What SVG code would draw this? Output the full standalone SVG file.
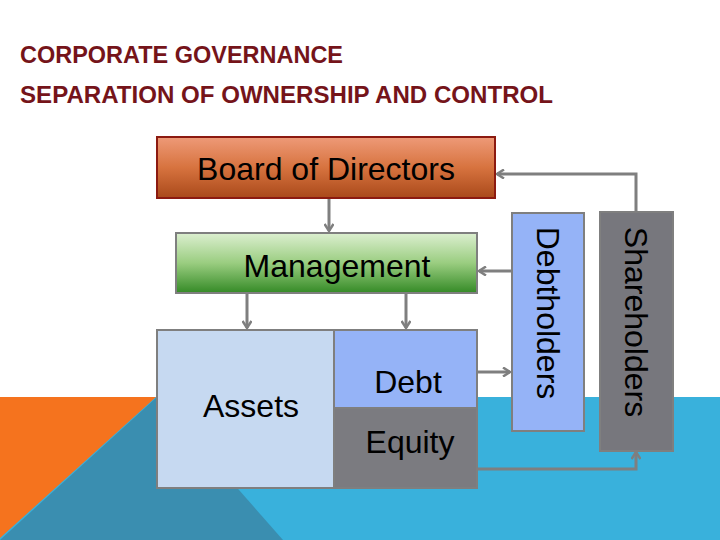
<svg xmlns="http://www.w3.org/2000/svg" width="720" height="540" viewBox="0 0 720 540">
<defs>
<linearGradient id="gBoard" x1="0" y1="0" x2="0" y2="1">
<stop offset="0" stop-color="#EE9A78"/>
<stop offset="0.5" stop-color="#D7733F"/>
<stop offset="1" stop-color="#A9491A"/>
</linearGradient>
<linearGradient id="gMgmt" x1="0" y1="0" x2="0" y2="1">
<stop offset="0" stop-color="#DCEFD0"/>
<stop offset="0.5" stop-color="#9ACD80"/>
<stop offset="1" stop-color="#348A26"/>
</linearGradient>
<marker id="arr" markerWidth="10" markerHeight="10" refX="8" refY="5" orient="auto" markerUnits="userSpaceOnUse">
<path d="M1,0.5 L8,5 L1,9.5" fill="none" stroke="#7F7F7F" stroke-width="2.5"/>
</marker>
</defs>
<style>
.title{font-family:"Liberation Sans",Arial,sans-serif;font-size:23px;font-weight:bold;fill:#75141A}
.lbl{font-family:"Liberation Sans",Arial,sans-serif;font-size:32px;fill:#000000}
.box{stroke:#7F7F7F;stroke-width:2}
.con{fill:none;stroke:#7F7F7F;stroke-width:3;marker-end:url(#arr)}
</style>
<rect x="0" y="0" width="720" height="540" fill="#FFFFFF"/>
<g id="background">
<rect x="0" y="397" width="720" height="143" fill="#39B1DC"/>
<polygon points="157,397 0,540 283,540" fill="#3A8EB0"/>
<polygon points="0,397 156,397 0,538" fill="#F5731E"/>
</g>
<text class="title" x="20" y="63" textLength="323" lengthAdjust="spacingAndGlyphs">CORPORATE GOVERNANCE</text>
<text class="title" x="20" y="103" textLength="533" lengthAdjust="spacingAndGlyphs">SEPARATION OF OWNERSHIP AND CONTROL</text>
<g id="connectors">
<line class="con" x1="329" y1="199" x2="329" y2="231"/>
<line class="con" x1="247" y1="293" x2="247" y2="328"/>
<line class="con" x1="406" y1="293" x2="406" y2="328"/>
<line class="con" x1="512" y1="271" x2="479" y2="271"/>
<line class="con" x1="478" y1="372" x2="510" y2="372"/>
<polyline class="con" points="636,212 636,174 497,174"/>
<polyline class="con" points="478,469 636,469 636,452"/>
</g>
<g id="board">
<rect x="157" y="137" width="338" height="61" fill="url(#gBoard)" stroke="#8C1A10" stroke-width="2"/>
<text class="lbl" x="326" y="180" text-anchor="middle">Board of Directors</text>
</g>
<g id="management">
<rect class="box" x="176" y="233" width="301" height="60" fill="url(#gMgmt)"/>
<text class="lbl" x="337" y="277" text-anchor="middle">Management</text>
</g>
<g id="assets">
<rect class="box" x="157" y="330" width="177" height="158" fill="#C6D9F1"/>
<text class="lbl" x="251" y="417" text-anchor="middle">Assets</text>
</g>
<g id="debt">
<rect class="box" x="334" y="330" width="143" height="78" fill="#95B3F7"/>
<text class="lbl" x="408" y="393" text-anchor="middle">Debt</text>
</g>
<g id="equity">
<rect class="box" x="334" y="408" width="143" height="80" fill="#7B7B80"/>
<text class="lbl" x="410" y="453" text-anchor="middle">Equity</text>
</g>
<g id="debtholders">
<rect class="box" x="512" y="213" width="72" height="218" fill="#95B3F7"/>
<text class="lbl" transform="translate(537,313) rotate(90)" text-anchor="middle">Debtholders</text>
</g>
<g id="shareholders">
<rect class="box" x="600" y="212" width="73" height="239" fill="#77777D"/>
<text class="lbl" transform="translate(625,322) rotate(90)" text-anchor="middle">Shareholders</text>
</g>
</svg>
